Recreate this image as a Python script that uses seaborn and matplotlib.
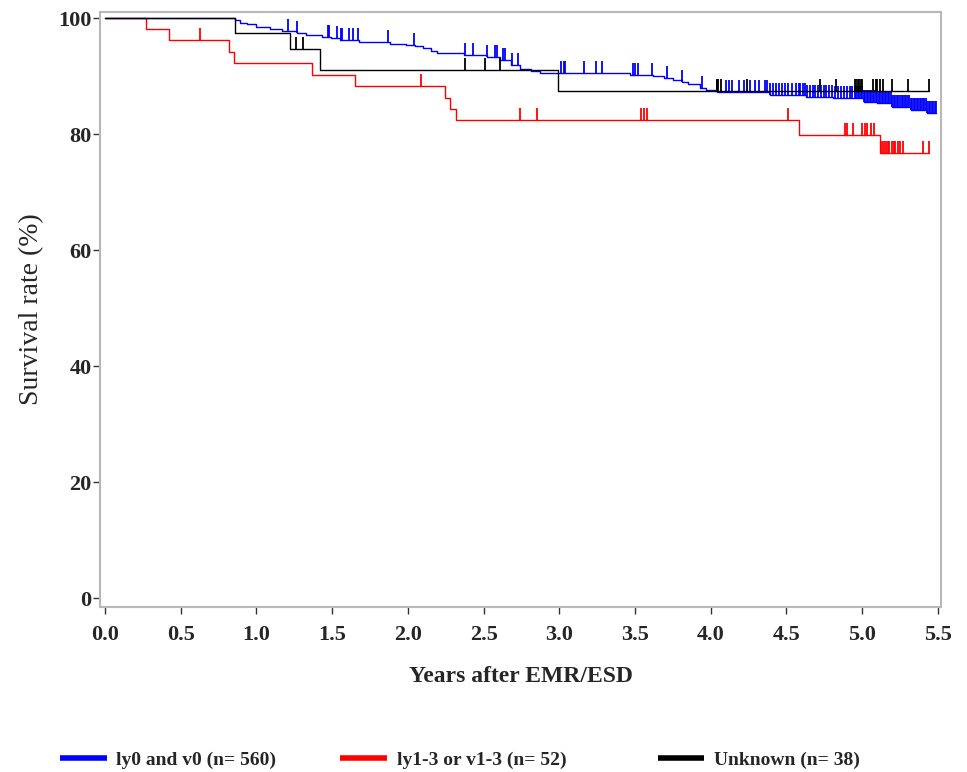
import numpy as np
import pandas as pd
import matplotlib
matplotlib.use("Agg")
import matplotlib.pyplot as plt
from matplotlib.lines import Line2D
from matplotlib.markers import MarkerStyle
from matplotlib.path import Path
import seaborn as sns

# Kaplan-Meier curves: step times (years) and survival (%) after each step
blue_label = "ly0 and v0 (n= 560)"
blue_time = [0, 0.86, 0.89, 0.94, 1.00, 1.09, 1.17, 1.27, 1.33, 1.43, 1.49, 1.55, 1.68,
             1.88, 1.99, 2.05, 2.10, 2.15, 2.19, 2.26, 2.37, 2.52, 2.61, 2.68, 2.74,
             2.81, 2.87, 3.47, 3.62, 3.69, 3.75, 3.81, 3.85, 3.93, 3.97, 4.04, 4.39,
             4.63, 4.81, 5.01, 5.10, 5.20, 5.32, 5.43]
blue_surv = [100, 99.6, 99.2, 98.9, 98.5, 98.1, 97.8, 97.4, 97.1, 96.8, 96.5, 96.2, 95.8,
             95.6, 95.3, 95.2, 94.8, 94.4, 94.0, 93.9, 93.7, 93.3, 92.8, 91.9, 91.3,
             90.9, 90.6, 90.2, 90.0, 89.6, 89.3, 88.9, 88.6, 87.9, 87.6, 87.3, 86.7,
             86.4, 86.2, 85.6, 85.3, 84.7, 84.1, 83.6]
blue_cens = [1.21, 1.27, 1.47, 1.48, 1.53, 1.556, 1.565, 1.61, 1.64, 1.67, 1.87, 2.04,
             2.38, 2.43, 2.52, 2.575, 2.59, 2.63, 2.64, 2.685, 2.73, 3.01, 3.03, 3.04,
             3.16, 3.24, 3.28, 3.49, 3.50, 3.52, 3.61, 3.71, 3.81, 3.94, 4.04, 4.10,
             4.12, 4.14, 4.19, 4.22, 4.26, 4.29, 4.32, 4.36, 4.37, 4.39, 4.41, 4.43,
             4.45, 4.47, 4.49, 4.51, 4.54, 4.56, 4.58, 4.59, 4.61, 4.62, 4.635, 4.655,
             4.675, 4.69, 4.71, 4.73, 4.75, 4.76, 4.78, 4.80, 4.82, 4.84, 4.86, 4.88,
             4.90, 4.92, 4.93, 4.95, 4.96, 4.97, 4.98, 4.99, 5.00, 5.01, 5.02, 5.03,
             5.04, 5.05, 5.06, 5.07, 5.08, 5.09, 5.10, 5.11, 5.12, 5.13, 5.14, 5.15,
             5.16, 5.17, 5.18, 5.19, 5.20, 5.21, 5.22, 5.23, 5.24, 5.25, 5.26, 5.27,
             5.28, 5.29, 5.30, 5.31, 5.32, 5.33, 5.34, 5.35, 5.36, 5.37, 5.38, 5.39,
             5.40, 5.41, 5.42, 5.43, 5.44, 5.45, 5.46, 5.47, 5.48, 5.49]

red_label = "ly1-3 or v1-3 (n= 52)"
red_time = [0, 0.27, 0.42, 0.82, 0.85, 1.37, 1.65, 2.245, 2.28, 2.32, 4.58, 5.12]
red_surv = [100, 98.1, 96.2, 94.2, 92.3, 90.2, 88.3, 86.3, 84.3, 82.4, 79.8, 76.8]
red_cens = [0.63, 2.09, 2.74, 2.85, 3.54, 3.56, 3.58, 4.51, 4.89, 4.90, 4.94, 5.00,
            5.02, 5.03, 5.06, 5.08, 5.13, 5.145, 5.16, 5.17, 5.18, 5.20, 5.21, 5.22,
            5.24, 5.25, 5.27, 5.40, 5.44]

unk_label = "Unknown (n= 38)"
unk_time = [0, 0.86, 1.22, 1.42, 2.99]
unk_surv = [100, 97.4, 94.7, 91.0, 87.5]
unk_cens = [1.26, 1.31, 2.38, 2.51, 2.61, 4.04, 4.05, 4.07, 4.24, 4.72, 4.83, 4.95,
            4.96, 4.97, 4.98, 4.99, 5.00, 5.07, 5.09, 5.10, 5.12, 5.14, 5.20, 5.30, 5.44]

x_ticks = [0.0, 0.5, 1.0, 1.5, 2.0, 2.5, 3.0, 3.5, 4.0, 4.5, 5.0, 5.5]
y_ticks = [0, 20, 40, 60, 80, 100]

groups = [
    (red_label, red_time, red_surv, red_cens, "#ff0000"),
    (blue_label, blue_time, blue_surv, blue_cens, "#0000ff"),
    (unk_label, unk_time, unk_surv, unk_cens, "#000000"),
]

sns.set_style("ticks")
plt.rcParams["font.family"] = ["Liberation Serif", "DejaVu Serif"]

fig = plt.figure(figsize=(9.67, 7.72), dpi=100)
ax = fig.add_axes([0.1034, 0.2137, 0.8696, 0.7708])

# upward-only censor tick
tick_mark = MarkerStyle(Path([(0, 0), (0, 1)]))

for i, (label, t, s, cens, color) in enumerate(groups):
    t = np.asarray(t, float)
    s = np.asarray(s, float)
    cens = np.asarray(cens, float)
    # extend the curve to the last censored time
    end = max(cens.max(), t.max())
    df = pd.DataFrame({"time": np.append(t, end), "surv": np.append(s, s[-1])})
    sns.lineplot(data=df, x="time", y="surv", color=color, lw=1.0,
                 drawstyle="steps-post", ax=ax, zorder=2 + i, legend=False)
    idx = np.searchsorted(t, cens, side="right") - 1
    cdf = pd.DataFrame({"time": cens, "surv": s[idx]})
    sns.scatterplot(data=cdf, x="time", y="surv", marker=tick_mark, s=300,
                    color=color, edgecolor=color, linewidth=1.3, ax=ax,
                    zorder=2 + i, legend=False)

ax.set_xlim(-0.033, 5.52)
ax.set_ylim(-1.55, 101.05)
ax.set_xticks(x_ticks)
ax.set_xticklabels([f"{v:.1f}" for v in x_ticks])
ax.set_yticks(y_ticks)
ax.set_yticklabels([str(v) for v in y_ticks])

for sp in ax.spines.values():
    sp.set_color("#b8b8b8")
    sp.set_linewidth(1.5)
ax.tick_params(axis="both", direction="out", length=5, width=1, color="#333333",
               labelsize=16)
ax.tick_params(axis="x", pad=8)
ax.tick_params(axis="y", pad=1)
for lab in ax.get_xticklabels() + ax.get_yticklabels():
    lab.set_fontweight("bold")

ax.set_xlabel("Years after EMR/ESD", fontsize=17, fontweight="bold", labelpad=15)
ax.set_ylabel("Survival rate (%)", fontsize=20, labelpad=10)

# legend: one entry per column, placed like the original
legend_x = [0.062, 0.352, 0.680]
for (label, _, _, _, color), lx in zip([groups[1], groups[0], groups[2]], legend_x):
    h = Line2D([], [], color=color, lw=4, solid_capstyle="butt")
    leg = fig.legend([h], [label], loc="lower left", bbox_to_anchor=(lx, 0.004),
                     frameon=False, borderpad=0, borderaxespad=0, handlelength=2.4,
                     handletextpad=0.5, prop={"size": 14, "weight": "bold"})

fig.savefig("out.png", dpi=100)
